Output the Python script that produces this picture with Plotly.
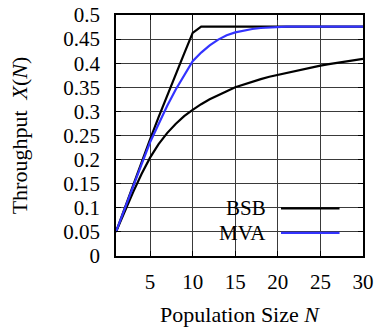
import plotly.graph_objects as go

# population sizes and throughput readings
N = list(range(1, 31))
bsb_upper = [0.05, 0.099, 0.147, 0.195, 0.242, 0.288, 0.333, 0.377, 0.42, 0.463,
             0.476, 0.476, 0.476, 0.476, 0.476, 0.476, 0.476, 0.476, 0.476, 0.476,
             0.476, 0.476, 0.476, 0.476, 0.476, 0.476, 0.476, 0.476, 0.476, 0.476]
bsb_lower = [0.05, 0.092, 0.132, 0.17, 0.204, 0.232, 0.255, 0.274, 0.29, 0.303,
             0.315, 0.325, 0.334, 0.342, 0.35, 0.356, 0.362, 0.367, 0.372, 0.376,
             0.38, 0.384, 0.388, 0.391, 0.395, 0.398, 0.401, 0.404, 0.406, 0.409]
mva = [0.05, 0.098, 0.145, 0.19, 0.236, 0.275, 0.311, 0.345, 0.376, 0.404,
       0.422, 0.437, 0.449, 0.458, 0.464, 0.468, 0.471, 0.473, 0.4745, 0.4755,
       0.476, 0.476, 0.476, 0.476, 0.476, 0.476, 0.476, 0.476, 0.476, 0.476]

x_ticks = [5, 10, 15, 20, 25, 30]
y_ticks = [0, 0.05, 0.1, 0.15, 0.2, 0.25, 0.3, 0.35, 0.4, 0.45, 0.5]
y_labels = ["0", "0.05", "0.1", "0.15", "0.2", "0.25", "0.3", "0.35", "0.4", "0.45", "0.5"]

FONT = "Liberation Serif"
BLUE = "#3333ff"

fig = go.Figure()
fig.add_trace(go.Scatter(x=N, y=bsb_lower, mode="lines", name="BSB",
                         line=dict(color="black", width=2.2)))
fig.add_trace(go.Scatter(x=N, y=bsb_upper, mode="lines", name="BSB",
                         line=dict(color="black", width=2.2)))
fig.add_trace(go.Scatter(x=N, y=mva, mode="lines", name="MVA",
                         line=dict(color=BLUE, width=2.2)))

axis_common = dict(showline=True, linecolor="black", linewidth=1.5, mirror="ticks",
                   ticks="inside", ticklen=5, tickcolor="black", tickwidth=1.2,
                   showgrid=True, gridcolor="#3a3a3a", gridwidth=1, zeroline=False,
                   automargin=False,
                   tickfont=dict(family=FONT, size=21, color="black"))

fig.update_xaxes(range=[1, 30], tickvals=x_ticks, ticklabelstandoff=6,
                 title=dict(text="Population Size <i>N</i>", standoff=23,
                            font=dict(family=FONT, size=22, color="black")),
                 **axis_common)
fig.update_yaxes(range=[0, 0.5], tickvals=y_ticks, ticktext=y_labels,
                 ticklabelstandoff=10,
                 title=dict(text="Throughput  <i>X</i>(<i>N</i>)", standoff=30,
                            font=dict(family=FONT, size=22, color="black")),
                 **axis_common)

# opaque key box, above the grid but under the curves
fig.add_shape(type="rect", xref="paper", yref="paper", x0=0.453, x1=0.951,
              y0=0.046, y1=0.241, fillcolor="white", line=dict(width=0),
              layer="between")

# legend drawn in the lower right, text left of the sample line
legend_items = [("BSB", "black", 0.198), ("MVA", BLUE, 0.096)]
for label, color, yv in legend_items:
    fig.add_annotation(x=0.615, y=yv, xref="paper", yref="paper", text=label,
                       showarrow=False, xanchor="right", yanchor="middle",
                       font=dict(family=FONT, size=21, color="black"))
    fig.add_shape(type="line", xref="paper", yref="paper", x0=0.668, x1=0.905,
                  y0=yv, y1=yv, line=dict(color=color, width=2.2))

fig.update_layout(width=375, height=327, showlegend=False,
                  margin=dict(l=116, r=12, t=15, b=71),
                  plot_bgcolor="white", paper_bgcolor="white")

fig.write_html("out.html", config={"displayModeBar": False},
               post_script="document.body.style.margin='0';document.body.style.overflow='hidden';")
